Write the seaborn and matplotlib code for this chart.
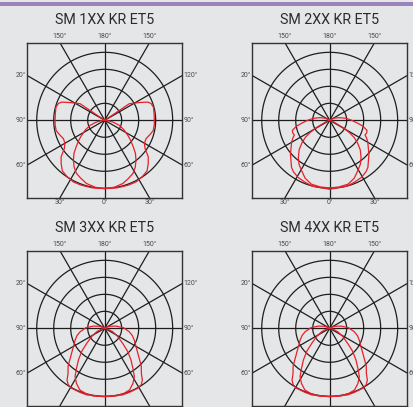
import numpy as np
import pandas as pd
import matplotlib
matplotlib.use('Agg')
import matplotlib.pyplot as plt
import seaborn as sns
from matplotlib.patches import Rectangle

# titles of the four diagrams
TITLES = ['SM 1XX KR ET5', 'SM 2XX KR ET5', 'SM 3XX KR ET5', 'SM 4XX KR ET5']

# polar curves, gamma in degrees from nadir (0 = down), r in ring units (outer ring = 4)
# symmetric about the vertical axis, only one half given
P1_WIDE_G = [0, 10, 15, 20, 27, 34, 40, 45, 50, 55, 60, 66, 72, 78, 85, 90, 97, 105, 110, 113, 117, 124, 125, 180]
P1_WIDE_R = [4.02, 4.04, 4.04, 4.06, 4.07, 3.98, 3.88, 3.62, 3.35, 2.9, 2.7, 2.66, 2.78, 2.92, 2.93, 2.92, 2.93, 2.97, 2.9, 2.74, 2.3, 1.75, 0.0, 0.0]
P1_NARROW_G = [0, 8, 16, 22, 28, 33, 38, 43, 47, 52, 57, 64, 71, 78, 85, 90]
P1_NARROW_R = [4.02, 3.98, 3.87, 3.7, 3.54, 3.3, 2.99, 2.65, 2.3, 1.95, 1.62, 1.25, 0.91, 0.5, 0.15, 0.0]

P2_WIDE_G = [0, 15, 22, 29, 35, 39, 44, 49, 55, 60, 64, 67.5, 71, 75, 80, 84, 90, 97, 105, 115, 130, 180]
P2_WIDE_R = [4.06, 4.0, 3.92, 3.84, 3.71, 3.57, 3.28, 3.06, 2.77, 2.59, 2.42, 2.25, 2.3, 2.27, 1.98, 1.66, 1.3, 0.97, 0.6, 0.3, 0.05, 0.0]
P2_NARROW_G = [0, 8, 16, 23, 29, 35, 40, 46, 51, 55, 58, 61, 63, 70, 80]
P2_NARROW_R = [3.98, 3.96, 3.91, 3.7, 3.4, 3.15, 2.87, 2.5, 2.1, 1.75, 1.37, 0.9, 0.53, 0.2, 0.0]

P3_WIDE_G = [0, 15, 21, 29, 33, 36, 39, 44, 48, 53, 60, 68, 75, 82, 92, 101, 110, 125, 180]
P3_WIDE_R = [4.02, 4.06, 4.04, 4.03, 3.95, 3.77, 3.43, 3.1, 2.76, 2.44, 2.12, 1.88, 1.69, 1.46, 1.1, 0.68, 0.35, 0.1, 0.0]
P3_NARROW_G = [0, 9.5, 16, 22, 27, 31.5, 35, 39.7, 45, 50, 58, 67, 75, 85]
P3_NARROW_R = [4.02, 4.04, 4.0, 3.91, 3.65, 3.34, 2.9, 2.42, 1.9, 1.38, 0.9, 0.51, 0.2, 0.0]

P4_WIDE_G = P3_WIDE_G
P4_WIDE_R = P3_WIDE_R
P4_NARROW_G = P3_NARROW_G
P4_NARROW_R = P3_NARROW_R

CURVES = [
    [(P1_WIDE_G, P1_WIDE_R), (P1_NARROW_G, P1_NARROW_R)],
    [(P2_WIDE_G, P2_WIDE_R), (P2_NARROW_G, P2_NARROW_R)],
    [(P3_WIDE_G, P3_WIDE_R), (P3_NARROW_G, P3_NARROW_R)],
    [(P4_WIDE_G, P4_WIDE_R), (P4_NARROW_G, P4_NARROW_R)],
]

# angle labels
TOP_LABELS = ['150°', '180°', '150°']
BOTTOM_LABELS = ['30°', '0°', '30°']
LEFT_LABELS = ['20°', '90°', '60°']
RIGHT_LABELS = ['120°', '90°', '60°']

BG = '#e4e6e7'
RED = '#e8202a'
GRID = '#1e1e1e'
LBL = '#4a4a4a'
FONT = ['Roboto', 'DejaVu Sans']

W, H = 414, 407
HALF = 4.56  # box half-size in ring units


def to_xy(g, r):
    g = np.radians(np.asarray(g, dtype=float))
    r = np.asarray(r, dtype=float)
    # left half from zenith down to nadir, then right half back up
    xl = -r[::-1] * np.sin(g[::-1])
    yl = -r[::-1] * np.cos(g[::-1])
    xr = r * np.sin(g)
    yr = -r * np.cos(g)
    return pd.DataFrame({'x': np.r_[xl, xr[1:]], 'y': np.r_[yl, yr[1:]]})


def draw_panel(fig, cx, cy, title, curves, bottom_labels=True):
    size = 155
    ax = fig.add_axes([(cx - size / 2) / W, 1 - (cy + size / 2) / H, size / W, size / H])
    ax.set_facecolor(BG)
    ax.set_xlim(-HALF, HALF)
    ax.set_ylim(-HALF, HALF)
    ax.set_xticks([])
    ax.set_yticks([])
    for s in ax.spines.values():
        s.set_color('#333333')
        s.set_linewidth(1.0)

    th = np.linspace(0, 2 * np.pi, 361)
    for rr in [1, 2, 3, 4]:
        ax.plot(rr * np.cos(th), rr * np.sin(th), color=GRID, lw=0.9, zorder=1)
    for a in range(0, 180, 30):
        t = np.radians(a)
        ax.plot([-10 * np.sin(t), 10 * np.sin(t)], [-10 * np.cos(t), 10 * np.cos(t)],
                color=GRID, lw=0.9, zorder=1)

    for g, r in curves:
        d = to_xy(g, r)
        sns.lineplot(data=d, x='x', y='y', sort=False, estimator=None, color=RED,
                     lw=0.9, ax=ax, zorder=3)
    ax.set_xlabel('')
    ax.set_ylabel('')

    fs = 5.0
    t30 = HALF * np.tan(np.radians(30))
    for xv, s in zip([-t30, 0, t30], TOP_LABELS):
        ax.text(xv, HALF + 0.37, s, ha='center', va='center', fontsize=fs,
                color=LBL, family=FONT, clip_on=False)
    if bottom_labels:
        for xv, s in zip([-t30, 0, t30], BOTTOM_LABELS):
            ax.text(xv, -HALF - 0.3, s, ha='center', va='center', fontsize=fs,
                    color=LBL, family=FONT, clip_on=False)
    for yv, s in zip([t30, 0, -t30], LEFT_LABELS):
        ax.text(-HALF - 0.08, yv, s, ha='right', va='center', fontsize=fs,
                color=LBL, family=FONT, clip_on=False)
    for yv, s in zip([t30, 0, -t30], RIGHT_LABELS):
        ax.text(HALF + 0.08, yv, s, ha='left', va='center', fontsize=fs,
                color=LBL, family=FONT, clip_on=False)

    fig.text(cx / W, 1 - (cy - 100) / H, title, ha='center', va='center',
             fontsize=10.3, color='#2b2b2b', family=FONT)


def main():
    sns.set_style('white')
    fig = plt.figure(figsize=(W / 100, H / 100), dpi=100, facecolor=BG)
    fig.add_artist(Rectangle((0, 1 - 6 / H), 1, 4.3 / H, transform=fig.transFigure,
                             facecolor='#9a85ba', edgecolor='none'))
    centers = [(104.7, 120.3), (329.7, 120.3), (104.7, 328.3), (329.7, 328.3)]
    for i, ((cx, cy), title, curves) in enumerate(zip(centers, TITLES, CURVES)):
        # the lower row is cut at the bottom edge, its 0°/30° labels fall outside
        draw_panel(fig, cx, cy, title, curves, bottom_labels=i < 2)
    fig.savefig('out.png', dpi=100, facecolor=BG)
    plt.close(fig)


if __name__ == '__main__':
    main()
